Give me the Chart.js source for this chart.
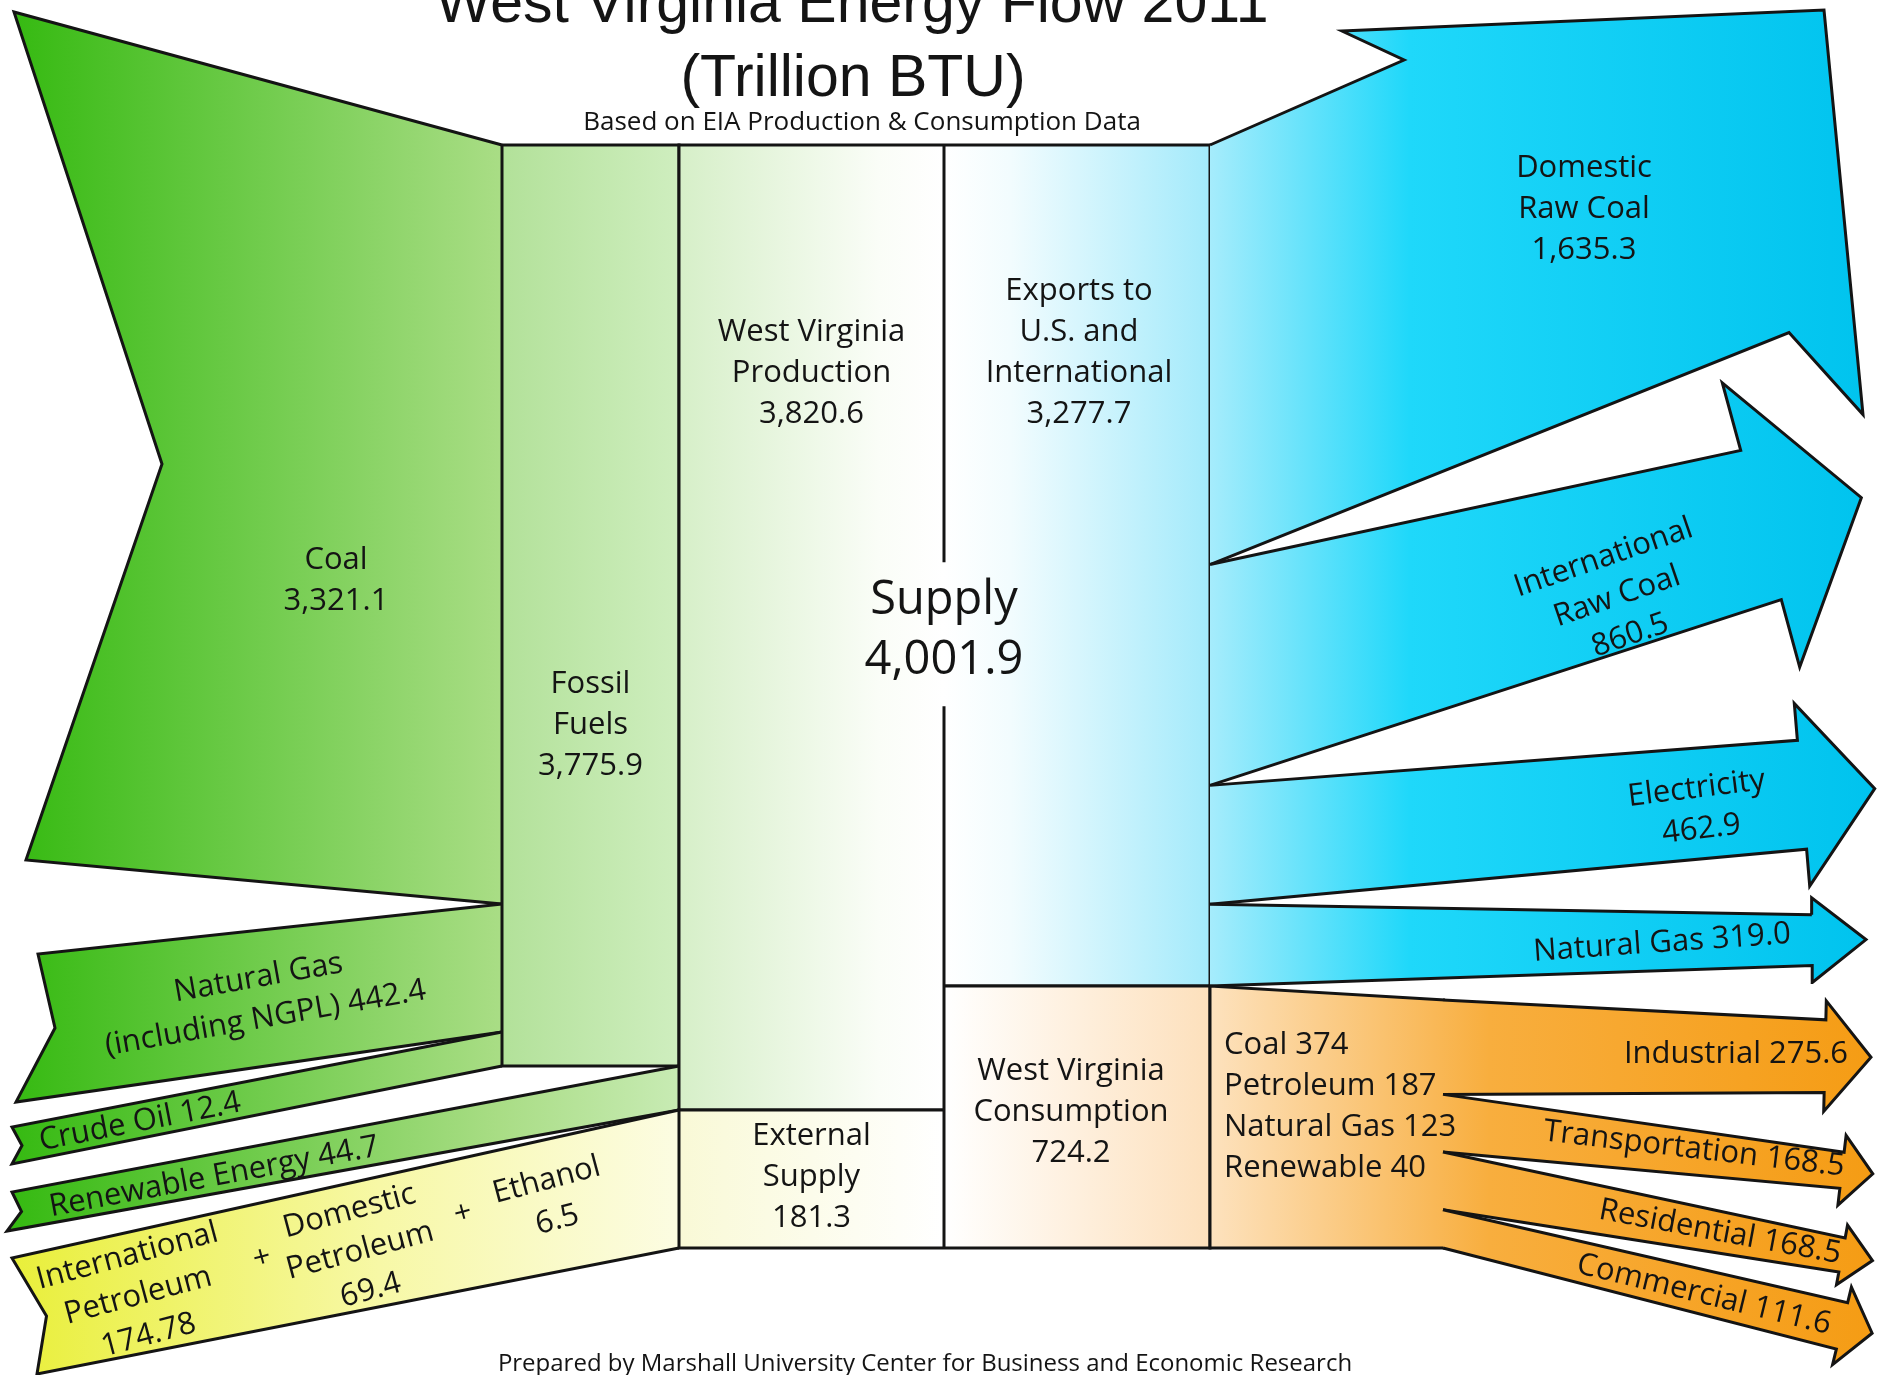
<!DOCTYPE html>
<html>
<head>
<meta charset="utf-8">
<script src="https://cdn.jsdelivr.net/npm/chart.js@4.4.1/dist/chart.umd.min.js"></script>
<style>
  html, body { margin: 0; background: #fff; }
  #wrap { width: 1881px; height: 1375px; }
</style>
</head>
<body>
<div id="wrap"><canvas id="flow"></canvas></div>
<script>
// values in trillion BTU
const sourceNames = ["Coal", "Natural Gas (including NGPL)", "Crude Oil", "Renewable Energy"];
const sourceValues = [3321.1, 442.4, 12.4, 44.7];
const fossilFuels = 3775.9;
const wvProduction = 3820.6;
const externalSupply = 181.3;
const petroleumNames = ["International Petroleum", "Domestic Petroleum", "Ethanol"];
const petroleumValues = [174.78, 69.4, 6.5];
const totalSupply = 4001.9;
const exportsTotal = 3277.7;
const exportNames = ["Domestic Raw Coal", "International Raw Coal", "Electricity", "Natural Gas"];
const exportValues = [1635.3, 860.5, 462.9, 319.0];
const wvConsumption = 724.2;
const fuelNames = ["Coal", "Petroleum", "Natural Gas", "Renewable"];
const fuelValues = [374, 187, 123, 40];
const sectorNames = ["Industrial", "Transportation", "Residential", "Commercial"];
const sectorValues = [275.6, 168.5, 168.5, 111.6];

// layout (canvas units, y down)
const W = 1881, H = 1375;
const TOP = 145, BOTTOM = 1248;
const X_FOSSIL = 502, X_PROD = 679, X_MID = 944, X_OUT = 1210, X_SPLIT = 1445;
const FAN_RISE = 14;
// smallest band height so the label still fits
const sourceMin = [0, 128, 34, 44, 138];
const exportMin = [0, 0, 0, 0, 262];
const sectorMin = [0, 0, 0, 0];

const tails = [
  { xTop: 14, xBot: 26, dropTop: -133, dropBot: -44, notch: 142, notchDrop: 28 },
  { xTop: 38, xBot: 16, dropTop: 50, dropBot: 70, notch: 28, notchDrop: 0 },
  { xTop: 12, xBot: 12, dropTop: 95, dropBot: 98, notch: 10, notchDrop: 0 },
  { xTop: 12, xBot: 7, dropTop: 126, dropBot: 121, notch: 12, notchDrop: 0 },
  { xTop: 12, xBot: 37, dropTop: 148, dropBot: 126, notch: 22, notchDrop: 0 },
];
const domesticStyle = { notchOut: [194, -85], notchIn: [132, -114], corner: [614, -135], tip: [653, -150], inner: [579, -232] };
const exportHeads = [
  null,
  { xEnd: 1761, rise: -150, endScale: 0.70, flare: 70, head: 104 },
  { xEnd: 1802, rise: -50, endScale: 0.92, flare: 37, head: 73 },
  { xEnd: 1812, rise: -5, endScale: 0.62, flare: 17, head: 54 },
];
const sectorHeads = [
  { xEnd: 1825, rise: 9, endScale: 0.77, flare: 19, head: 46 },
  { xEnd: 1842, rise: 47, endScale: 0.63, flare: 17, head: 31 },
  { xEnd: 1842, rise: 74, endScale: 0.60, flare: 13, head: 31 },
  { xEnd: 1842, rise: 97, endScale: 1.25, flare: 16, head: 31 },
];

const INK = "#141414";
const LABEL_FONT = "'Open Sans'";
const TITLE_FONT = "'Liberation Sans'";

const fmt = (v, d = 1) => v.toLocaleString("en-US", { minimumFractionDigits: d, maximumFractionDigits: d });

// split a span between bands, proportional to value but never under the minimum
function stack(values, mins, y0, y1) {
  const h = values.map(() => 0);
  const fixed = values.map(() => false);
  let again = true;
  while (again) {
    again = false;
    let room = y1 - y0, sum = 0;
    values.forEach((v, i) => { if (fixed[i]) room -= h[i]; else sum += v; });
    for (let i = 0; i < values.length; i++) {
      if (fixed[i]) continue;
      h[i] = room * values[i] / sum;
      if (h[i] < mins[i]) { h[i] = mins[i]; fixed[i] = true; again = true; break; }
    }
  }
  let y = y0;
  return h.map(v => { const b = [y, y + v]; y += v; return b; });
}

function leftArrow(band, xEnd, tl) {
  const [t, b] = band;
  const yt = t + tl.dropTop, yb = b + tl.dropBot;
  const mx = (tl.xTop + tl.xBot) / 2;
  const pts = [[xEnd, t], [tl.xTop, yt], [mx + tl.notch, (yt + yb) / 2 + tl.notchDrop], [tl.xBot, yb], [xEnd, b]];
  const angle = Math.atan2((t + b) / 2 - (yt + yb) / 2, xEnd - mx) * 180 / Math.PI;
  return { pts, top: [[tl.xTop, yt], [xEnd, t]], bot: [[tl.xBot, yb], [xEnd, b]], angle };
}

function rightArrow(x0, band, a) {
  const [t, b] = band;
  const c0 = (t + b) / 2, cx = a.xEnd, cy = c0 + a.rise;
  const len = Math.hypot(cx - x0, cy - c0);
  const ux = (cx - x0) / len, uy = (cy - c0) / len, nx = -uy, ny = ux;
  const hw = (b - t) * a.endScale / 2, hh = hw + a.flare;
  const sTop = [cx - nx * hw, cy - ny * hw], sBot = [cx + nx * hw, cy + ny * hw];
  const pts = [[x0, t], sTop, [cx - nx * hh, cy - ny * hh], [cx + ux * a.head, cy + uy * a.head],
    [cx + nx * hh, cy + ny * hh], sBot, [x0, b]];
  return { pts, top: [[x0, t], sTop], bot: [[x0, b], sBot], angle: Math.atan2(uy, ux) * 180 / Math.PI };
}

function domesticArrow(x0, band, d) {
  const [t, b] = band;
  const P = (p, base) => [x0 + p[0], base + p[1]];
  const pts = [[x0, t], P(d.notchOut, t), P(d.notchIn, t), P(d.corner, t), P(d.tip, b), P(d.inner, b), [x0, b]];
  return { pts, top: [[x0, t], P(d.corner, t)], bot: [[x0, b], P(d.inner, b)], angle: 0 };
}

function box(x0, x1, t, b, open) {
  let pts = [[x0, t], [x1, t], [x1, b], [x0, b], [x0, t]];
  if (open === "right") pts = [[x1, t], [x0, t], [x0, b], [x1, b]];
  if (open === "left") pts = [[x0, t], [x1, t], [x1, b], [x0, b]];
  return { pts, top: [[x0, t], [x1, t]], bot: [[x0, b], [x1, b]], angle: 0 };
}

function lerpY(seg, x) {
  const [[x0, y0], [x1, y1]] = seg;
  return y0 + (y1 - y0) * (x - x0) / (x1 - x0);
}
function anchor(shape, x, s) {
  const yt = lerpY(shape.top, x), yb = lerpY(shape.bot, x);
  return [x, yt + s * (yb - yt)];
}

function grad(x0, x1, stops) {
  return (c) => {
    const xs = c.chart.scales.x;
    if (!xs) return stops[0][1];
    const p0 = xs.getPixelForValue(x0), p1 = xs.getPixelForValue(x1);
    if (!isFinite(p0) || !isFinite(p1)) return stops[0][1];
    const g = c.chart.ctx.createLinearGradient(p0, 0, p1, 0);
    stops.forEach(([o, col]) => g.addColorStop(o, col));
    return g;
  };
}

const greenFill = grad(14, X_PROD, [[0, "#36ba12"], [0.73, "#a9dd85"], [1, "#c8ebb4"]]);
const yellowFill = grad(12, X_PROD, [[0, "#e9ef3a"], [0.55, "#f7f8a6"], [1, "#fcfce2"]]);
const fossilFill = grad(X_FOSSIL, X_PROD, [[0, "#b2e199"], [1, "#cfeebf"]]);
const prodFill = grad(X_PROD, X_MID, [[0, "#d6efc8"], [0.75, "#fafdf7"], [1, "#ffffff"]]);
const extFill = grad(X_PROD, X_MID, [[0, "#f9f9d6"], [1, "#ffffff"]]);
const exportFill = grad(X_MID, X_OUT, [[0, "#ffffff"], [0.25, "#f2fcfe"], [1, "#a3eafb"]]);
const consFill = grad(X_MID, X_OUT, [[0, "#ffffff"], [1, "#fde0bc"]]);
const blueFill = grad(X_OUT, 1875, [[0, "#a6ecfc"], [0.3, "#1fd8fa"], [1, "#00c3ee"]]);
const orangeFill = grad(X_OUT, 1875, [[0, "#fde2be"], [0.42, "#f8ae3e"], [1, "#f59c14"]]);

// bands
const left = stack([...sourceValues, externalSupply], sourceMin, TOP, BOTTOM);
const fossilBottom = left[2][1];
const prodBottom = left[3][1];
const right = stack([...exportValues, wvConsumption], exportMin, TOP, BOTTOM);
const consBand = right[4];
const sectorBands = stack(sectorValues, sectorMin, consBand[0] + FAN_RISE, consBand[1]);

// shapes
const coal = leftArrow(left[0], X_FOSSIL, tails[0]);
const gas = leftArrow(left[1], X_FOSSIL, tails[1]);
const crude = leftArrow(left[2], X_FOSSIL, tails[2]);
const renew = leftArrow(left[3], X_PROD, tails[3]);
const petro = leftArrow(left[4], X_PROD, tails[4]);
const fossilBox = box(X_FOSSIL, X_PROD, TOP, fossilBottom);
const prodBox = box(X_PROD, X_MID, TOP, prodBottom, "right");
const extBox = box(X_PROD, X_MID, prodBottom, BOTTOM, "right");
const exportBox = box(X_MID, X_OUT, TOP, consBand[0], "left");
const consBox = box(X_MID, X_OUT, consBand[0], BOTTOM, "left");
const whole = box(X_PROD, X_OUT, TOP, BOTTOM);
const domestic = domesticArrow(X_OUT, right[0], domesticStyle);
const exportArrows = [1, 2, 3].map(i => rightArrow(X_OUT, right[i], exportHeads[i]));
const fan = {
  pts: [[X_SPLIT, consBand[0] + FAN_RISE], [X_OUT, consBand[0]], [X_OUT, BOTTOM], [X_SPLIT, BOTTOM]],
  top: [[X_OUT, consBand[0]], [X_SPLIT, consBand[0] + FAN_RISE]], bot: [[X_OUT, BOTTOM], [X_SPLIT, BOTTOM]], angle: 0
};
const sectorArrows = sectorBands.map((b, i) => rightArrow(X_SPLIT - 2, b, sectorHeads[i]));

const supplyAt = anchor(whole, X_MID, 0.44);

function shapeSet(shape, fill) {
  return {
    data: shape.pts.map(([x, y]) => ({ x, y })),
    showLine: true, fill: "shape", backgroundColor: fill,
    borderColor: INK, borderWidth: 3, borderJoinStyle: "miter",
    pointRadius: 0, pointHoverRadius: 0, tension: 0, clip: false
  };
}

const datasets = [
  shapeSet(coal, greenFill), shapeSet(gas, greenFill), shapeSet(crude, greenFill),
  shapeSet(fossilBox, fossilFill),
  shapeSet(renew, greenFill), shapeSet(petro, yellowFill),
  shapeSet(prodBox, prodFill), shapeSet(extBox, extFill),
  shapeSet(exportBox, exportFill), shapeSet(consBox, consFill),
  {
    data: [{ x: X_MID, y: TOP }, { x: X_MID, y: supplyAt[1] - 68 }, { x: X_MID, y: null },
      { x: X_MID, y: supplyAt[1] + 76 }, { x: X_MID, y: BOTTOM }],
    showLine: true, fill: false, spanGaps: false, borderColor: INK, borderWidth: 3,
    pointRadius: 0, pointHoverRadius: 0, clip: false
  },
  shapeSet(domestic, blueFill),
  ...exportArrows.map(a => shapeSet(a, blueFill)),
  shapeSet(fan, orangeFill),
  ...sectorArrows.map(a => shapeSet(a, orangeFill)),
];
datasets.forEach((d, i) => { d.order = -i; });

// labels tied to the shapes
const two = (name) => [name.slice(0, name.indexOf(" ")), name.slice(name.indexOf(" ") + 1)];
const ngName = sourceNames[1];
const labels = [
  { lines: [sourceNames[0], fmt(sourceValues[0])], at: anchor(coal, 336, 0.61), angle: 0 },
  { lines: [ngName.slice(0, ngName.indexOf(" (")), ngName.slice(ngName.indexOf(" (") + 1) + " " + fmt(sourceValues[1])],
    at: anchor(gas, 262, 0.5), angle: -10 },
  { lines: [sourceNames[2] + " " + fmt(sourceValues[2])], at: anchor(crude, 140, 0.55), angle: -11 },
  { lines: [sourceNames[3] + " " + fmt(sourceValues[3])], at: anchor(renew, 214, 0.58), angle: -10.5 },
  { lines: [...two(petroleumNames[0]), fmt(petroleumValues[0], 2)], at: anchor(petro, 138, 0.53), angle: -15 },
  { lines: ["+"], at: anchor(petro, 262, 0.44), angle: -15 },
  { lines: [...two(petroleumNames[1]), fmt(petroleumValues[1])], at: anchor(petro, 360, 0.54), angle: -15 },
  { lines: ["+"], at: anchor(petro, 463, 0.42), angle: -15 },
  { lines: [petroleumNames[2], fmt(petroleumValues[2])], at: anchor(petro, 552, 0.46), angle: -15 },
  { lines: ["Fossil", "Fuels", fmt(fossilFuels)], at: anchor(fossilBox, (X_FOSSIL + X_PROD) / 2, 0.63), angle: 0 },
  { lines: ["West Virginia", "Production", fmt(wvProduction)], at: anchor(prodBox, (X_PROD + X_MID) / 2, 0.236), angle: 0 },
  { lines: ["External", "Supply", fmt(externalSupply)], at: anchor(extBox, (X_PROD + X_MID) / 2, 0.49), angle: 0 },
  { lines: ["Exports to", "U.S. and", "International", fmt(exportsTotal)], at: anchor(exportBox, 1079, 0.247), angle: 0 },
  { lines: ["West Virginia", "Consumption", fmt(wvConsumption)], at: anchor(consBox, 1071, 0.48), angle: 0 },
  { lines: ["Supply", fmt(totalSupply)], at: supplyAt, angle: 0, size: 47, lh: 60 },
  { lines: [...two(exportNames[0]), fmt(exportValues[0])], at: anchor(domestic, 1584, 0.415), angle: 0 },
  { lines: [...two(exportNames[1]), fmt(exportValues[1])], at: anchor(exportArrows[0], 1617, 0.68), angle: -19 },
  { lines: [exportNames[2], fmt(exportValues[2])], at: anchor(exportArrows[1], 1699, 0.55), angle: -7 },
  { lines: [exportNames[3] + " " + fmt(exportValues[3])], at: anchor(exportArrows[2], 1662, 0.53), angle: -4 },
  ...sectorNames.map((n, i) => ({
    lines: [n + " " + fmt(sectorValues[i])],
    at: anchor(sectorArrows[i], [1736, 1694, 1720, 1704][i], [0.5, 0.42, 0.5, 0.55][i]),
    angle: i === 0 ? 0 : sectorArrows[i].angle
  })),
  { lines: fuelNames.map((n, i) => n + " " + fuelValues[i]), at: [1224, anchor(fan, 1224, 0.46)[1]], angle: 0, align: "left" },
];

const headings = [
  { text: "West Virginia Energy Flow 2011", x: 852, y: 22, font: `59px ${TITLE_FONT}` },
  { text: "(Trillion BTU)", x: 853, y: 96, font: `59px ${TITLE_FONT}` },
  { text: "Based on EIA Production & Consumption Data", x: 862, y: 130, font: `500 26px ${LABEL_FONT}` },
  { text: "Prepared by Marshall University Center for Business and Economic Research", x: 925, y: 1371, font: `500 24px ${LABEL_FONT}` },
];

const textPlugin = {
  id: "flowText",
  afterDatasetsDraw(chart) {
    const { ctx, scales: { x, y } } = chart;
    ctx.save();
    ctx.fillStyle = INK;
    ctx.textBaseline = "middle";
    for (const l of labels) {
      const size = l.size || 31, lh = l.lh || 41;
      ctx.save();
      ctx.translate(x.getPixelForValue(l.at[0]), y.getPixelForValue(l.at[1]));
      ctx.rotate(l.angle * Math.PI / 180);
      ctx.font = `500 ${size}px ${LABEL_FONT}`;
      ctx.textAlign = l.align || "center";
      l.lines.forEach((t, i) => ctx.fillText(t, 0, (i - (l.lines.length - 1) / 2) * lh));
      ctx.restore();
    }
    ctx.textAlign = "center";
    ctx.textBaseline = "alphabetic";
    for (const h of headings) {
      ctx.font = h.font;
      ctx.fillText(h.text, x.getPixelForValue(h.x), y.getPixelForValue(h.y));
    }
    ctx.restore();
  }
};

new Chart(document.getElementById("flow"), {
  type: "scatter",
  data: { datasets },
  options: {
    responsive: true,
    maintainAspectRatio: false,
    animation: false,
    events: [],
    layout: { padding: 0 },
    scales: {
      x: { type: "linear", min: 0, max: W, display: false },
      y: { type: "linear", min: 0, max: H, reverse: true, display: false },
    },
    plugins: {
      legend: { display: false },
      tooltip: { enabled: false },
      title: { display: false },
    },
  },
  plugins: [textPlugin],
});
</script>
</body>
</html>
